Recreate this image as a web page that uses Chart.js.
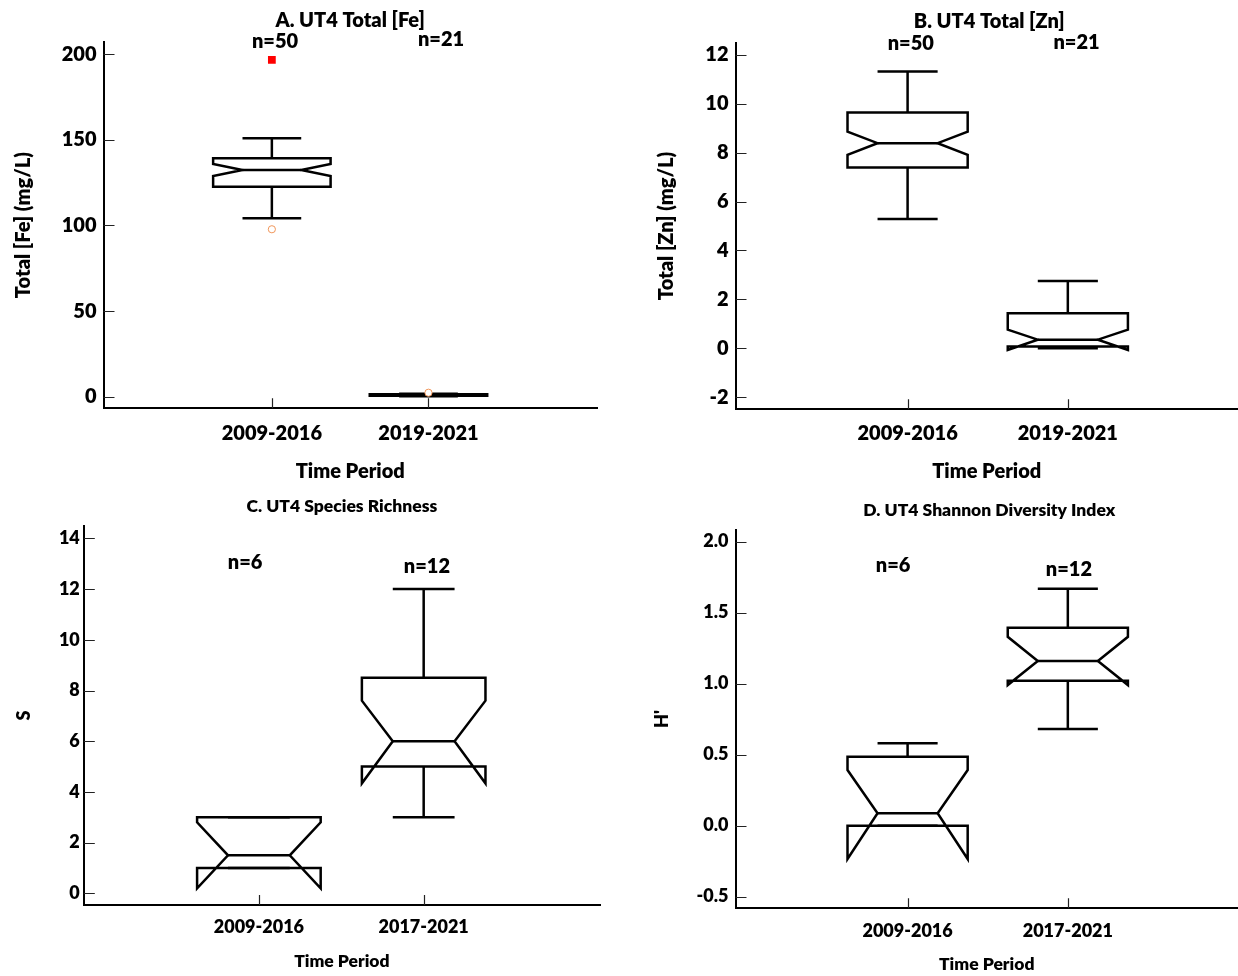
<!DOCTYPE html>
<html>
<head>
<meta charset="utf-8">
<script src="https://cdn.jsdelivr.net/npm/chart.js@4.4.1/dist/chart.umd.min.js"></script>
<style>
  html, body { margin: 0; padding: 0; background: #fff; overflow: hidden; }
  #wrap { position: relative; width: 1238px; height: 976px; }
  canvas { position: absolute; }
</style>
</head>
<body>
<div id="wrap">
  <canvas id="chartA" width="620" height="488" style="left:0;top:0"></canvas>
  <canvas id="chartB" width="618" height="488" style="left:620px;top:0"></canvas>
  <canvas id="chartC" width="620" height="488" style="left:0;top:488px"></canvas>
  <canvas id="chartD" width="618" height="488" style="left:620px;top:488px"></canvas>
</div>
<script>
// A. 总铁
var feCategories = ['2009-2016', '2019-2021'];
var feN = ['n=50', 'n=21'];
var feWhiskerLow = [104.2, 0.3];
var feQ1 = [122.7, 0.6];
var feNotchLow = [128.9, 0.8];
var feMedian = [132.4, 1.0];
var feNotchHigh = [135.9, 1.2];
var feQ3 = [139.3, 1.4];
var feWhiskerHigh = [150.9, 1.7];
var feOutliers = [[1, 97.8], [2, 2.3]];
var feFarOutliers = [[1, 196.7]];
var feTicks = [0, 50, 100, 150, 200];

// B. 总锌
var znCategories = ['2009-2016', '2019-2021'];
var znN = ['n=50', 'n=21'];
var znWhiskerLow = [5.29, 0.0];
var znQ1 = [7.39, 0.07];
var znNotchLow = [7.91, -0.07];
var znMedian = [8.39, 0.35];
var znNotchHigh = [8.86, 0.76];
var znQ3 = [9.64, 1.43];
var znWhiskerHigh = [11.32, 2.75];
var znTicks = [-2, 0, 2, 4, 6, 8, 10, 12];

// C. 物种丰富度
var richCategories = ['2009-2016', '2017-2021'];
var richN = ['n=6', 'n=12'];
var richWhiskerLow = [1.0, 3.0];
var richQ1 = [1.0, 5.0];
var richNotchLow = [0.2, 4.34];
var richMedian = [1.5, 6.0];
var richNotchHigh = [2.8, 7.6];
var richQ3 = [3.0, 8.5];
var richWhiskerHigh = [3.0, 12.0];
var richTicks = [0, 2, 4, 6, 8, 10, 12, 14];

// D. 香农多样性指数
var shanCategories = ['2009-2016', '2017-2021'];
var shanN = ['n=6', 'n=12'];
var shanWhiskerLow = [0.0, 0.68];
var shanQ1 = [0.0, 1.02];
var shanNotchLow = [-0.235, 0.99];
var shanMedian = [0.087, 1.16];
var shanNotchHigh = [0.392, 1.33];
var shanQ3 = [0.486, 1.394];
var shanWhiskerHigh = [0.58, 1.669];
var shanTicks = [-0.5, 0, 0.5, 1.0, 1.5, 2.0];

var BOX_W = 0.75;   // 箱体宽度（x轴单位）
var CAP_W = 0.375;  // 须线端宽度
var FONT = 'Lato, "Open Sans", sans-serif';
var WEIGHT = 800;

function stats(wl, q1, nl, med, nh, q3, wh) {
  return wl.map(function(v, i) {
    return { wl: v, q1: q1[i], nl: nl[i], med: med[i], nh: nh[i], q3: q3[i], wh: wh[i] };
  });
}

// 绘制带缺口的箱线图
var notchBoxPlugin = {
  id: 'notchBox',
  beforeDatasetsDraw: function(chart) {
    var o = chart.options.plugins.notchBox;
    var xs = chart.scales.x, ys = chart.scales.y, ctx = chart.ctx;
    var X = function(v) { return xs.getPixelForValue(v); };
    var Y = function(v) { return ys.getPixelForValue(v); };
    ctx.save();
    ctx.strokeStyle = '#000';
    ctx.lineWidth = 2.5;
    ctx.lineCap = 'butt';
    ctx.lineJoin = 'miter';
    o.stats.forEach(function(s, i) {
      var c = i + 1;
      var L = X(c - BOX_W / 2), R = X(c + BOX_W / 2);
      var Li = X(c - BOX_W / 4), Ri = X(c + BOX_W / 4);
      var cl = X(c - CAP_W / 2), cr = X(c + CAP_W / 2), xc = X(c);
      ctx.beginPath();
      ctx.moveTo(L, Y(s.q3));
      ctx.lineTo(L, Y(s.nh));
      ctx.lineTo(Li, Y(s.med));
      ctx.lineTo(L, Y(s.nl));
      ctx.lineTo(L, Y(s.q1));
      ctx.lineTo(R, Y(s.q1));
      ctx.lineTo(R, Y(s.nl));
      ctx.lineTo(Ri, Y(s.med));
      ctx.lineTo(R, Y(s.nh));
      ctx.lineTo(R, Y(s.q3));
      ctx.closePath();
      ctx.stroke();
      ctx.beginPath();
      ctx.moveTo(Li, Y(s.med)); ctx.lineTo(Ri, Y(s.med));
      // 须线
      ctx.moveTo(xc, Y(s.q3)); ctx.lineTo(xc, Y(s.wh));
      ctx.moveTo(cl, Y(s.wh)); ctx.lineTo(cr, Y(s.wh));
      ctx.moveTo(xc, Y(s.q1)); ctx.lineTo(xc, Y(s.wl));
      ctx.moveTo(cl, Y(s.wl)); ctx.lineTo(cr, Y(s.wl));
      ctx.stroke();
    });
    ctx.restore();
  },
  afterDraw: function(chart) {
    var o = chart.options.plugins.notchBox;
    var xs = chart.scales.x, ys = chart.scales.y, ctx = chart.ctx, a = chart.chartArea;
    ctx.save();
    // 向内的刻度线
    ctx.strokeStyle = '#222';
    ctx.lineWidth = 1.2;
    ctx.beginPath();
    xs.ticks.forEach(function(t) {
      var px = Math.round(xs.getPixelForValue(t.value)) + 0.5;
      ctx.moveTo(px, a.bottom); ctx.lineTo(px, a.bottom - 10);
    });
    ys.ticks.forEach(function(t) {
      var py = Math.round(ys.getPixelForValue(t.value)) + 0.5;
      ctx.moveTo(a.left, py); ctx.lineTo(a.left + 11, py);
    });
    ctx.stroke();
    // 标题
    ctx.fillStyle = '#000';
    ctx.textAlign = 'center';
    ctx.textBaseline = 'middle';
    ctx.font = WEIGHT + ' ' + o.titleSize + 'px ' + FONT;
    ctx.fillText(o.title, (a.left + o.titleRight) / 2, a.top - o.titleOffset);
    // 样本数
    ctx.font = WEIGHT + ' 20px ' + FONT;
    o.nText.forEach(function(t, i) {
      ctx.fillText(t, xs.getPixelForValue(o.nX[i]), ys.getPixelForValue(o.nY[i]));
    });
    ctx.restore();
  }
};

function makeChart(id, p) {
  var datasets = [];
  if (p.far) {
    datasets.push({
      data: p.far.map(function(d) { return { x: d[0], y: d[1] }; }),
      pointStyle: 'rect', pointRadius: 5.5, borderWidth: 0,
      backgroundColor: '#ff0000', borderColor: '#ff0000'
    });
  }
  if (p.out) {
    datasets.push({
      data: p.out.map(function(d) { return { x: d[0], y: d[1] }; }),
      pointStyle: 'circle', pointRadius: 3.6, borderWidth: 1,
      backgroundColor: '#fff', borderColor: 'rgb(240,150,90)'
    });
  }
  return new Chart(document.getElementById(id), {
    type: 'scatter',
    data: { datasets: datasets },
    plugins: [notchBoxPlugin],
    options: {
      responsive: false,
      animation: false,
      devicePixelRatio: 1,
      layout: { padding: { top: p.top, right: p.right, left: 0, bottom: 0 } },
      plugins: {
        legend: { display: false },
        tooltip: { enabled: false },
        notchBox: {
          stats: p.stats, title: p.title, titleSize: p.titleSize,
          titleOffset: p.titleOffset, titleRight: p.titleRight,
          nText: p.nText, nX: p.nX, nY: p.nY
        }
      },
      scales: {
        x: {
          type: 'linear', min: p.xMin, max: p.xMax,
          afterBuildTicks: function(s) { s.ticks = p.cats.map(function(c, i) { return { value: i + 1 }; }); },
          afterFit: function(s) { s.height = p.xHeight; },
          grid: { display: false, drawTicks: false },
          border: { display: true, color: '#000', width: 2 },
          ticks: {
            color: '#000', padding: p.xTickPad, maxRotation: 0, autoSkip: false,
            font: { family: FONT, weight: WEIGHT, size: p.xTickSize },
            callback: function(v) { return p.cats[v - 1]; }
          },
          title: {
            display: true, text: 'Time Period', color: '#000',
            font: { family: FONT, weight: WEIGHT, size: p.xTitleSize },
            padding: { top: 0, bottom: p.xTitlePad }
          }
        },
        y: {
          type: 'linear', min: p.yMin, max: p.yMax,
          afterBuildTicks: function(s) { s.ticks = p.yTicks.map(function(v) { return { value: v }; }); },
          afterFit: function(s) { s.width = p.yWidth; },
          grid: { display: false, drawTicks: false },
          border: { display: true, color: '#000', width: 2 },
          ticks: {
            color: '#000', padding: p.yTickPad,
            font: { family: FONT, weight: WEIGHT, size: p.yTickSize },
            callback: function(v) { return p.decimals ? v.toFixed(p.decimals) : String(v); }
          },
          title: {
            display: true, text: p.yTitle, color: '#000',
            font: { family: FONT, weight: WEIGHT, size: p.yTitleSize },
            padding: { top: p.yTitlePad, bottom: 0 }
          }
        }
      }
    }
  });
}

function drawAll() {
  makeChart('chartA', {
    cats: feCategories, title: 'A. UT4 Total [Fe]', yTitle: 'Total [Fe] (mg/L)',
    stats: stats(feWhiskerLow, feQ1, feNotchLow, feMedian, feNotchHigh, feQ3, feWhiskerHigh),
    out: feOutliers, far: feFarOutliers, yTicks: feTicks,
    nText: feN, nX: [1.02, 2.08], nY: [207.4, 208.4],
    top: 42, right: 23, yWidth: 103.5, xHeight: 79.7,
    xMin: -0.075, xMax: 3.076, yMin: -6.8, yMax: 207.2,
    titleSize: 20, titleOffset: 21.3, titleRight: 596.8,
    xTickSize: 20, xTickPad: 13, xTitleSize: 20, xTitlePad: 4,
    yTickSize: 20, yTickPad: 7, yTitleSize: 20, yTitlePad: 11.5
  });
  makeChart('chartB', {
    cats: znCategories, title: 'B. UT4 Total [Zn]', yTitle: 'Total [Zn] (mg/L)',
    stats: stats(znWhiskerLow, znQ1, znNotchLow, znMedian, znNotchHigh, znQ3, znWhiskerHigh),
    yTicks: znTicks,
    nText: znN, nX: [1.02, 2.054], nY: [12.48, 12.5],
    top: 42.7, right: 0, yWidth: 115.5, xHeight: 78.7,
    xMin: -0.074, xMax: 3.062, yMin: -2.5, yMax: 12.5,
    titleSize: 20, titleOffset: 21, titleRight: 623,
    xTickSize: 20, xTickPad: 12, xTitleSize: 20, xTitlePad: 4.3,
    yTickSize: 20, yTickPad: 7, yTitleSize: 20, yTitlePad: 34.3
  });
  makeChart('chartC', {
    cats: richCategories, title: 'C. UT4 Species Richness', yTitle: 'S',
    stats: stats(richWhiskerLow, richQ1, richNotchLow, richMedian, richNotchHigh, richQ3, richWhiskerHigh),
    yTicks: richTicks,
    nText: richN, nX: [0.916, 2.02], nY: [13.03, 12.88],
    top: 38, right: 20, yWidth: 83.8, xHeight: 71,
    xMin: -0.0625, xMax: 3.07, yMin: -0.46, yMax: 14.49,
    titleSize: 17.5, titleOffset: 19.3, titleRight: 600,
    xTickSize: 18, xTickPad: 11, xTitleSize: 17.5, xTitlePad: 4,
    yTickSize: 18, yTickPad: 4, yTitleSize: 18, yTitlePad: 13.2
  });
  makeChart('chartD', {
    cats: shanCategories, title: 'D. UT4 Shannon Diversity Index', yTitle: "H'",
    stats: stats(shanWhiskerLow, shanQ1, shanNotchLow, shanMedian, shanNotchHigh, shanQ3, shanWhiskerHigh),
    yTicks: shanTicks, decimals: 1,
    nText: shanN, nX: [0.91, 2.007], nY: [1.83, 1.806],
    top: 42, right: 0, yWidth: 115.5, xHeight: 67.7,
    xMin: -0.074, xMax: 3.062, yMin: -0.582, yMax: 2.082,
    titleSize: 17.5, titleOffset: 19.3, titleRight: 623,
    xTickSize: 18, xTickPad: 11.6, xTitleSize: 17.5, xTitlePad: 1,
    yTickSize: 18, yTickPad: 7, yTitleSize: 18, yTitlePad: 31.2
  });
}

if (document.fonts && document.fonts.load) {
  Promise.all([
    document.fonts.load('800 20px Lato'),
    document.fonts.load('800 17.5px Lato')
  ]).then(drawAll, drawAll);
} else {
  drawAll();
}
</script>
</body>
</html>
